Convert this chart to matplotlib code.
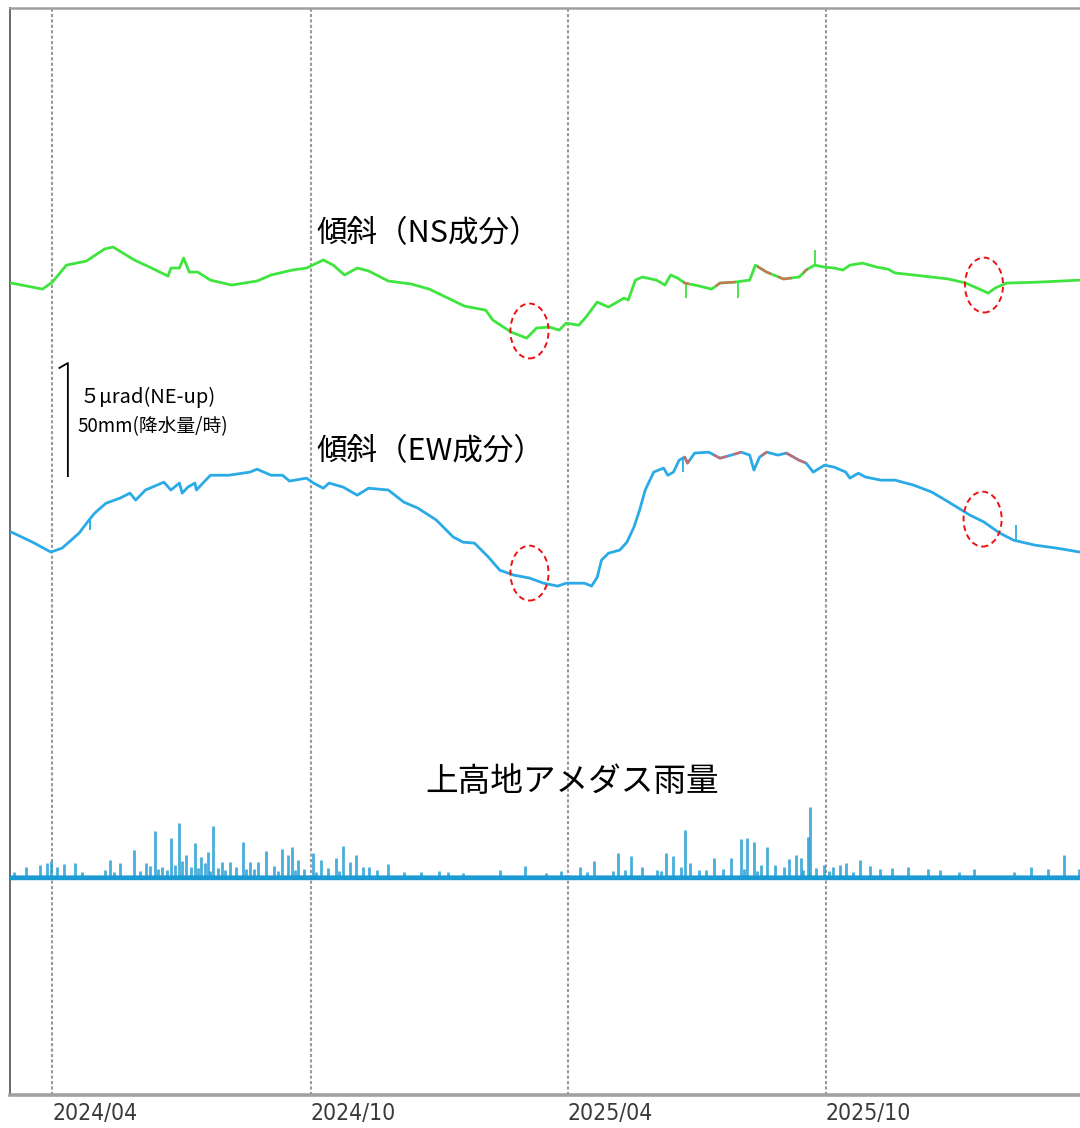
import matplotlib
matplotlib.use("Agg")
import matplotlib.pyplot as plt
import matplotlib.dates as mdates
from matplotlib.patches import Ellipse, Rectangle
import numpy as np
import pandas as pd

# ---------------- data ----------------
# NS tilt component (micro-radian, relative)
ns_dates = ["2024-03-03", "2024-03-25", "2024-04-01", "2024-04-11", "2024-04-25", "2024-05-08",
            "2024-05-14", "2024-05-21", "2024-05-29", "2024-06-09", "2024-06-22", "2024-06-24",
            "2024-06-30", "2024-07-03", "2024-07-07", "2024-07-13", "2024-07-22", "2024-08-06",
            "2024-08-24", "2024-09-03", "2024-09-18", "2024-09-28", "2024-10-10", "2024-10-17",
            "2024-10-25", "2024-11-03", "2024-11-11", "2024-11-25", "2024-12-11", "2024-12-24",
            "2025-01-18", "2025-02-02", "2025-02-07", "2025-02-20", "2025-03-03", "2025-03-10",
            "2025-03-19", "2025-03-26", "2025-03-31", "2025-04-09", "2025-04-14", "2025-04-22",
            "2025-04-30", "2025-05-11", "2025-05-14", "2025-05-19", "2025-05-24", "2025-06-03",
            "2025-06-09", "2025-06-13", "2025-06-18", "2025-06-23", "2025-07-03", "2025-07-12",
            "2025-07-18", "2025-07-28", "2025-08-08", "2025-08-12", "2025-08-20", "2025-09-01",
            "2025-09-12", "2025-09-17", "2025-09-23", "2025-09-30", "2025-10-07", "2025-10-13",
            "2025-10-18", "2025-10-27", "2025-11-06", "2025-11-14", "2025-11-19", "2025-12-02",
            "2025-12-27", "2026-01-08", "2026-01-16", "2026-01-24", "2026-01-29", "2026-02-06",
            "2026-02-28", "2026-03-30"]
ns_values = [0.00, -0.27, 0.04, 0.80, 0.98, 1.52,
             1.61, 1.34, 1.03, 0.71, 0.31, 0.67,
             0.67, 1.12, 0.49, 0.49, 0.13, -0.09,
             0.09, 0.36, 0.58, 0.67, 1.03, 0.80,
             0.36, 0.67, 0.54, 0.09, -0.04, -0.27,
             -1.03, -1.21, -1.65, -2.19, -2.46, -2.01,
             -1.96, -2.10, -1.79, -1.88, -1.52, -0.85,
             -1.07, -0.67, -0.76, 0.13, 0.27, 0.13,
             -0.09, 0.36, 0.22, 0.00, -0.13, -0.27,
             0.00, 0.04, 0.13, 0.80, 0.49, 0.18,
             0.27, 0.58, 0.80, 0.71, 0.67, 0.58,
             0.80, 0.89, 0.71, 0.62, 0.45, 0.36,
             0.18, 0.00, -0.22, -0.45, -0.22, 0.00,
             0.04, 0.13]
ns_spike_dates = ["2025-06-24", "2025-07-31", "2025-09-23"]
ns_spike_base = [0.00, 0.04, 0.80]
ns_spike_tip = [-0.67, -0.67, 1.47]

# EW tilt component (micro-radian, relative)
ew_dates = ["2024-03-03", "2024-03-18", "2024-03-31", "2024-04-08", "2024-04-20", "2024-04-27",
            "2024-05-01", "2024-05-09", "2024-05-19", "2024-05-26", "2024-05-30", "2024-06-06",
            "2024-06-19", "2024-06-24", "2024-06-30", "2024-07-02", "2024-07-06", "2024-07-11",
            "2024-07-12", "2024-07-22", "2024-08-04", "2024-08-19", "2024-08-24", "2024-09-03",
            "2024-09-11", "2024-09-16", "2024-09-28", "2024-10-03", "2024-10-10", "2024-10-14",
            "2024-10-24", "2024-11-03", "2024-11-11", "2024-11-25", "2024-12-06", "2024-12-16",
            "2024-12-29", "2025-01-10", "2025-01-17", "2025-01-25", "2025-02-04", "2025-02-12",
            "2025-02-22", "2025-03-05", "2025-03-15", "2025-03-25", "2025-03-31", "2025-04-13",
            "2025-04-18", "2025-04-22", "2025-04-25", "2025-04-30", "2025-05-08", "2025-05-13",
            "2025-05-18", "2025-05-22", "2025-05-26", "2025-06-01", "2025-06-08", "2025-06-11",
            "2025-06-15", "2025-06-19", "2025-06-23", "2025-06-25", "2025-06-30", "2025-07-10",
            "2025-07-18", "2025-07-26", "2025-08-02", "2025-08-08", "2025-08-11", "2025-08-15",
            "2025-08-20", "2025-08-28", "2025-09-03", "2025-09-12", "2025-09-17", "2025-09-22",
            "2025-09-30", "2025-10-07", "2025-10-15", "2025-10-18", "2025-10-24", "2025-10-29",
            "2025-11-09", "2025-11-19", "2025-12-02", "2025-12-15", "2025-12-27", "2026-01-11",
            "2026-01-21", "2026-02-01", "2026-02-11", "2026-02-26", "2026-03-13", "2026-03-30"]
ew_values = [0.00, -0.45, -0.89, -0.71, -0.04, 0.54,
             0.85, 1.29, 1.52, 1.74, 1.43, 1.88,
             2.23, 1.88, 2.19, 1.74, 2.01, 2.19,
             1.88, 2.54, 2.54, 2.68, 2.81, 2.54,
             2.54, 2.28, 2.41, 2.19, 1.96, 2.19,
             2.01, 1.65, 1.96, 1.88, 1.34, 1.07,
             0.54, -0.22, -0.45, -0.49, -1.12, -1.70,
             -1.92, -2.05, -2.28, -2.41, -2.28, -2.28,
             -2.41, -2.01, -1.25, -0.94, -0.80, -0.45,
             0.22, 0.98, 1.88, 2.68, 2.86, 2.54,
             2.68, 3.21, 3.35, 3.08, 3.53, 3.57,
             3.30, 3.44, 3.57, 3.44, 2.77, 3.35,
             3.57, 3.44, 3.53, 3.21, 3.08, 2.68,
             2.99, 2.90, 2.68, 2.41, 2.63, 2.46,
             2.32, 2.32, 2.10, 1.79, 1.34, 0.76,
             0.45, -0.04, -0.36, -0.58, -0.71, -0.89]
ew_spike_dates = ["2024-04-28", "2025-06-22", "2026-02-13"]
ew_spike_base = [0.60, 3.30, -0.40]
ew_spike_tip = [0.10, 2.68, 0.31]

# periods shown in red (flagged data)
ns_flag_start = ["2025-06-22", "2025-07-15", "2025-08-13", "2025-08-28", "2025-09-15"]
ns_flag_end = ["2025-06-26", "2025-07-29", "2025-08-23", "2025-09-07", "2025-09-18"]
ew_flag_start = ["2025-06-22", "2025-07-13", "2025-07-28", "2025-08-16", "2025-09-02"]
ew_flag_end = ["2025-06-26", "2025-07-23", "2025-08-02", "2025-08-20", "2025-09-17"]

# Kamikochi AMeDAS hourly rainfall peaks (mm/h)
rain_dates = ["2024-03-05", "2024-03-13", "2024-03-23", "2024-03-28", "2024-03-31", "2024-04-04",
              "2024-04-09", "2024-04-17", "2024-04-22", "2024-05-08", "2024-05-12", "2024-05-19",
              "2024-05-29", "2024-06-06", "2024-06-13", "2024-06-18", "2024-06-24", "2024-06-30",
              "2024-07-05", "2024-07-11", "2024-07-15", "2024-07-20", "2024-07-24", "2024-07-30",
              "2024-08-05", "2024-08-14", "2024-08-19", "2024-08-25", "2024-08-30", "2024-09-11",
              "2024-09-15", "2024-09-18", "2024-09-22", "2024-10-03", "2024-10-08", "2024-10-19",
              "2024-10-24", "2024-10-29", "2024-11-02", "2024-11-07", "2024-11-11", "2024-11-17",
              "2024-11-25", "2024-12-06", "2024-12-18", "2024-12-31", "2025-01-06", "2025-01-17",
              "2025-02-12", "2025-03-02", "2025-03-17", "2025-03-27", "2025-04-10", "2025-04-20",
              "2025-05-07", "2025-05-16", "2025-05-24", "2025-06-03", "2025-06-10", "2025-06-15",
              "2025-06-23", "2025-06-27", "2025-07-03", "2025-07-14", "2025-07-26", "2025-08-02",
              "2025-08-06", "2025-08-11", "2025-08-20", "2025-08-26", "2025-09-05", "2025-09-10",
              "2025-09-13", "2025-09-18", "2025-09-20", "2025-09-30", "2025-10-06", "2025-10-11",
              "2025-10-15", "2025-10-25", "2025-11-01", "2025-11-08", "2025-11-17", "2025-11-28",
              "2025-12-12", "2025-12-21", "2026-01-03", "2026-01-14", "2026-02-11", "2026-02-23",
              "2026-03-07", "2026-03-19", "2026-03-29",
              "2024-06-09", "2024-06-27", "2024-07-02", "2024-07-08", "2024-07-18", "2024-07-27",
              "2024-08-09", "2024-08-22", "2024-09-05", "2024-09-26", "2024-10-13", "2025-06-20",
              "2025-07-20", "2025-08-16", "2025-09-01", "2025-09-24",
              "2024-05-15", "2024-06-02", "2024-06-15", "2024-06-21", "2024-07-13", "2024-07-22",
              "2024-08-01", "2024-08-16", "2024-09-08", "2024-09-20", "2024-10-05", "2024-10-21",
              "2025-04-15", "2025-05-03", "2025-05-12", "2025-06-06", "2025-07-08", "2025-08-04",
              "2025-08-13", "2025-09-15", "2025-10-03", "2025-10-20"]
rain_mm = [2.7, 4.9, 5.8, 6.7, 7.6, 4.9,
           6.3, 6.7, 2.7, 3.6, 8.0, 6.7,
           12.5, 6.7, 21.0, 4.9, 17.9, 24.6,
           10.3, 15.6, 9.4, 11.6, 23.2, 7.1,
           7.1, 16.1, 7.1, 7.1, 12.1, 12.9,
           10.3, 13.8, 8.0, 11.2, 8.0, 8.9,
           14.3, 7.1, 10.3, 4.9, 4.9, 3.6,
           6.3, 2.7, 2.7, 3.1, 2.7, 2.2,
           3.6, 5.4, 2.2, 3.1, 4.9, 7.6,
           11.2, 9.8, 4.9, 3.6, 11.2, 9.8,
           21.4, 6.7, 3.6, 8.9, 8.9, 17.4,
           17.9, 16.1, 13.8, 5.8, 8.5, 10.3,
           8.9, 18.3, 31.7, 5.8, 4.9, 5.8,
           6.7, 8.0, 5.4, 4.0, 4.5, 4.9,
           4.0, 3.6, 2.7, 4.0, 2.7, 4.9,
           4.0, 10.3, 4.0,
           5.5, 6.0, 7.5, 5.0, 6.5, 4.5,
           5.0, 4.0, 5.5, 4.0, 4.5, 5.0,
           4.0, 6.0, 5.0, 4.5,
           2.5, 3.0, 4.0, 3.5, 4.5, 3.0,
           3.5, 4.0, 3.0, 3.5, 2.5, 3.0,
           2.5, 3.0, 3.5, 3.0, 3.5, 4.0,
           3.0, 3.5, 3.0, 2.5]

tick_dates = ["2024-04-01", "2024-10-01", "2025-04-01", "2025-10-01"]

# ---------------- layout constants ----------------
X_START, X_END = "2024-03-02", "2026-03-30"
Y_TOP = 48.53          # axis height in micro-radian units
NS_OFFSET = 36.25
EW_OFFSET = 25.13
RAIN_OFFSET = 9.69
RAIN_SCALE = 0.1        # 50 mm/h == 5 micro-radian on the chart

NS_COLOR = "#3fe43f"
EW_COLOR = "#2aaae6"
RAIN_COLOR = "#1b9ad4"
FLAG_COLOR = "#e4605a"

JP = ["Noto Sans CJK JP", "DejaVu Sans"]

W, H = 1080, 1128
fig = plt.figure(figsize=(W / 100, H / 100), dpi=100)
ax = fig.add_axes([10 / W, 1 - 1095 / H, 1070 / W, 1087 / H])

d = lambda lst: pd.to_datetime(lst)

ns_x = d(ns_dates)
ew_x = d(ew_dates)
ns_y = np.array(ns_values) + NS_OFFSET
ew_y = np.array(ew_values) + EW_OFFSET

ax.plot(ns_x, ns_y, color=NS_COLOR, lw=2.0, solid_joinstyle="round", zorder=3)
ax.vlines(d(ns_spike_dates), np.array(ns_spike_base) + NS_OFFSET,
          np.array(ns_spike_tip) + NS_OFFSET, color=NS_COLOR, lw=1.3, zorder=3)
ax.plot(ew_x, ew_y, color=EW_COLOR, lw=2.0, solid_joinstyle="round", zorder=3)
ax.vlines(d(ew_spike_dates), np.array(ew_spike_base) + EW_OFFSET,
          np.array(ew_spike_tip) + EW_OFFSET, color=EW_COLOR, lw=1.3, zorder=3)

# red flagged parts, drawn over the lines and clipped to each period
for xs, ys, starts, ends in [(ns_x, ns_y, ns_flag_start, ns_flag_end),
                             (ew_x, ew_y, ew_flag_start, ew_flag_end)]:
    for s, e in zip(d(starts), d(ends)):
        line, = ax.plot(xs, ys, color=FLAG_COLOR, lw=1.7, alpha=0.85, zorder=4)
        x0, x1 = mdates.date2num(s), mdates.date2num(e)
        rect = Rectangle((x0, 0), x1 - x0, Y_TOP, transform=ax.transData)
        line.set_clip_path(rect)

# rainfall
ax.vlines(d(rain_dates), RAIN_OFFSET, RAIN_OFFSET + np.array(rain_mm) * RAIN_SCALE,
          color=RAIN_COLOR, lw=2.0, alpha=0.8, zorder=3)
ax.axhline(RAIN_OFFSET + 0.1, color=RAIN_COLOR, lw=2.0, alpha=0.55, zorder=3)
ax.axhline(RAIN_OFFSET - 0.02, color=RAIN_COLOR, lw=3.2, zorder=3)

# red dashed ellipses marking changes
ell = [("2025-03-05", NS_OFFSET - 2.14), ("2026-01-21", NS_OFFSET - 0.09),
       ("2025-03-05", EW_OFFSET - 1.83), ("2026-01-20", EW_OFFSET + 0.58)]
for dt, yy in ell:
    ax.add_patch(Ellipse((mdates.date2num(pd.Timestamp(dt)), yy), 27, 2.45,
                         fill=False, ec="#ee1111", lw=1.4, ls=(0, (3, 2)), zorder=5))

# scale bar (5 micro-radian / 50 mm)
sb_x0 = mdates.date2num(pd.Timestamp("2024-04-06"))
sb_x1 = mdates.date2num(pd.Timestamp("2024-04-12"))
ax.plot([sb_x0, sb_x1, sb_x1], [32.46, 32.68, 27.63], color="black", lw=1.3, zorder=5)

ax.set_xlim(d([X_START])[0], d([X_END])[0])
ax.set_ylim(0, Y_TOP)
ax.set_yticks([])
ax.set_xticks(d(tick_dates))
ax.xaxis.set_major_formatter(mdates.DateFormatter("%Y/%m"))
ax.tick_params(axis="x", length=0, pad=5, labelsize=16.5, labelcolor="#3a3a3a")
for lab in ax.get_xticklabels():
    lab.set_ha("left")
    lab.set_family("DejaVu Sans")
    lab.set_fontstretch("condensed")
ax.grid(axis="x", color="#999999", lw=1.5, ls=(0, (1.5, 1.1)))
ax.set_axisbelow(True)

ax.spines["left"].set_color("#6a6a6a")
ax.spines["left"].set_linewidth(1.4)
ax.spines["top"].set_color("#a0a0a0")
ax.spines["top"].set_linewidth(1.8)
ax.spines["bottom"].set_color("#a0a0a0")
ax.spines["bottom"].set_linewidth(2.6)
ax.spines["right"].set_visible(False)

def ptext(x, y, s, size, **kw):
    fig.text(x / W, 1 - y / H, s, fontsize=size, family=JP, va="center", ha="left", **kw)

ptext(316, 234, "傾斜（NS成分）", 22)
ptext(316, 452, "傾斜（EW成分）", 22)
ptext(425, 782, "上高地アメダス雨量", 23.5)
ptext(80, 397, "５μrad(NE-up)", 14.5)
ptext(77, 427, "50mm(降水量/時)", 13.5)

fig.savefig("out.png", dpi=100)
